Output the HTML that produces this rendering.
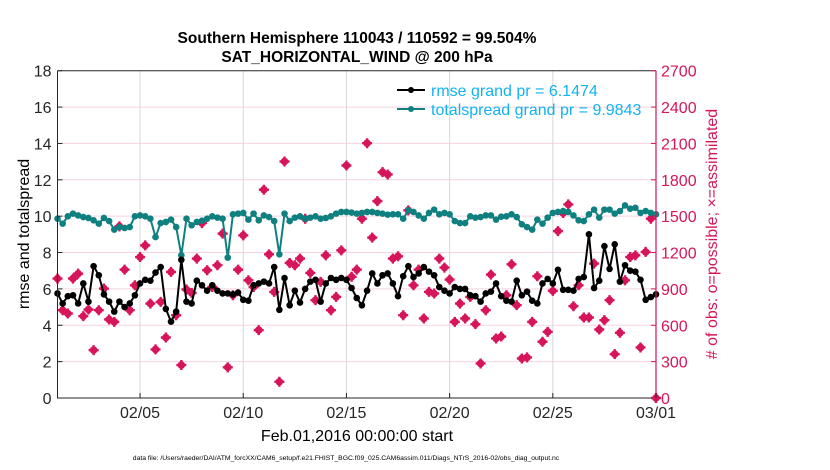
<!DOCTYPE html>
<html><head><meta charset="utf-8">
<style>
html,body{margin:0;padding:0;background:#fff;}
svg{display:block;font-family:"Liberation Sans",sans-serif;}
</style></head>
<body>
<svg id="chart" width="830" height="470" viewBox="0 0 830 470" xmlns="http://www.w3.org/2000/svg">
<rect width="830" height="470" fill="#fff"/>
<g id="grid"></g>
<g id="series"></g>
<g id="axes"></g>
<text x="357" y="43" font-size="15.5" font-weight="bold" text-anchor="middle">Southern Hemisphere 110043 / 110592 = 99.504%</text>
<text x="357" y="62" font-size="15.5" font-weight="bold" text-anchor="middle">SAT_HORIZONTAL_WIND @ 200 hPa</text>
<text transform="translate(29,234) rotate(-90)" font-size="16" text-anchor="middle">rmse and totalspread</text>
<text transform="translate(717,234) rotate(-90)" font-size="16" text-anchor="middle" fill="#d6155a"># of obs: o=possible; ×=assimilated</text>
<text x="357" y="441" font-size="16" text-anchor="middle">Feb.01,2016 00:00:00 start</text>
<text x="346" y="460" font-size="6.8" text-anchor="middle">data file: /Users/raeder/DAI/ATM_forcXX/CAM6_setup/f.e21.FHIST_BGC.f09_025.CAM6assim.011/Diags_NTrS_2016-02/obs_diag_output.nc</text>
<g>
  <g>
    <line x1="397" y1="90" x2="425" y2="90" stroke="#000" stroke-width="2"/>
    <circle cx="411" cy="90" r="3" fill="#000"/>
    <text x="431" y="96" font-size="16" fill="#12b3f0">rmse grand pr = 6.1474</text>
  </g>
  <g>
    <line x1="397" y1="109" x2="425" y2="109" stroke="#0f8080" stroke-width="2"/>
    <circle cx="411" cy="109" r="3" fill="#0f8080"/>
    <text x="431" y="115" font-size="16" fill="#12b3f0">totalspread grand pr = 9.9843</text>
  </g>
</g>
</svg>
<script>
const rmse=[5.75,5.2,5.6,5.65,5.2,6.3,5.3,7.25,6.75,5.7,5.3,4.75,5.3,5.0,5.2,5.65,6.3,6.5,6.45,6.9,7.2,4.9,4.2,4.75,7.6,5.3,5.2,6.45,6.2,5.9,
6.2,5.9,5.75,5.75,5.7,5.8,5.4,5.35,6.2,6.3,6.4,6.3,7.2,4.85,6.6,5.1,5.9,5.25,6.0,6.4,6.5,5.3,6.3,6.6,6.5,6.6,6.5,6.05,
5.5,5.1,5.9,6.85,6.3,6.75,6.85,6.3,5.6,6.7,7.25,6.65,6.85,7.2,6.95,6.75,6.1,5.9,5.75,6.1,6.0,6.0,5.65,5.6,5.3,5.75,5.85,6.3,5.6,
5.35,5.3,6.45,5.65,5.85,5.35,5.2,6.3,6.55,6.3,7.05,5.95,5.95,5.9,6.55,6.65,9.0,6.05,6.45,8.35,7.1,8.45,6.4,7.3,7.0,6.95,6.5,5.4,5.55,5.7];
const spread=[9.86,9.59,9.99,10.14,10.04,9.95,9.9,9.77,9.59,9.9,9.73,9.26,9.4,9.35,9.4,9.99,10.04,9.99,9.86,8.85,9.62,9.68,9.81,9.4,7.85,9.86,9.5,9.68,9.75,9.86,
9.99,9.92,9.86,7.72,10.1,10.14,10.18,9.81,10.14,9.77,10.04,9.95,9.73,7.9,10.14,9.73,9.92,9.99,9.86,9.92,9.99,9.86,9.9,9.99,10.14,10.23,10.23,10.2,
10.14,10.18,10.23,10.23,10.18,10.14,10.08,10.1,10.1,9.86,10.32,10.23,10.04,9.86,10.18,10.36,10.1,10.18,10.1,9.73,9.62,9.62,9.99,9.92,9.95,10.04,10.04,9.81,9.97,
9.99,10.1,9.95,9.55,9.4,9.26,9.81,9.59,9.92,10.18,10.23,10.28,10.23,10.04,9.77,9.73,10.1,10.36,9.92,10.36,10.36,10.14,10.28,10.59,10.41,10.46,10.18,10.28,10.18,10.1];
const nobs=[985,724,697,985,1026,675,730,395,724,903,648,628,1416,1059,724,930,1163,1259,779,401,793,499,1040,683,272,895,867,1150,1443,1054,
916,1095,1356,253,848,1059,1342,971,916,560,1718,1185,875,134,1951,1114,1095,1150,1479,1032,807,958,1177,724,834,1218,1918,1000,
1059,1479,2102,1323,1624,1863,1844,1150,1169,683,1548,930,1059,656,875,862,1150,1076,977,628,779,656,834,609,285,724,1018,491,507,
848,1103,766,326,335,628,1004,464,546,884,1377,1526,1597,757,930,664,664,1109,565,642,807,362,538,971,1163,1177,417,1205,1479,0];
const xTickLabels=["02/05","02/10","02/15","02/20","02/25","03/01"];
const xTickDays=[4,9,14,19,24,29];
const leftTicks=[0,2,4,6,8,10,12,14,16,18];
const rightTicks=[0,300,600,900,1200,1500,1800,2100,2400,2700];

const X0=57.5,X1=656,Y0=398,Y1=70.7,DAYS=29,STEPS_PER_DAY=4;
const xDay=d=>X0+(X1-X0)*d/DAYS;
const xIdx=i=>xDay(i/STEPS_PER_DAY);
const yL=v=>Y0-(Y0-Y1)*v/18;
const yR=v=>Y0-(Y0-Y1)*v/2700;
const NS="http://www.w3.org/2000/svg";
function mk(tag,attrs,parent){const e=document.createElementNS(NS,tag);for(const k in attrs)e.setAttribute(k,attrs[k]);parent.appendChild(e);return e;}
const grid=document.getElementById('grid'),series=document.getElementById('series'),axes=document.getElementById('axes');

rightTicks.forEach(v=>{if(v>0&&v<2700){const l=mk('line',{x1:X0,x2:X1,y1:yR(v),y2:yR(v),stroke:'#f6d3e0','stroke-width':1},grid);

}});
xTickDays.forEach(d=>{if(d<DAYS){const l=mk('line',{x1:xDay(d),x2:xDay(d),y1:Y1,y2:Y0,stroke:'#d8d8d8','stroke-width':1},grid);

}});

nobs.forEach((v,i)=>{const g=mk('g',{},series);


const cx=xIdx(i),cy=yR(v);
mk('circle',{cx:cx,cy:cy,r:3.8,fill:'#d6155a'},g);
mk('path',{d:`M${cx-5},${cy}H${cx+5}M${cx},${cy-5}V${cy+5}`,stroke:'#d6155a','stroke-width':2.4},g);});

function line(arr,col,name){const p=mk('polyline',{points:arr.map((v,i)=>xIdx(i)+','+yL(v)).join(' '),fill:'none',stroke:col,'stroke-width':2,'stroke-linejoin':'round'},series);


arr.forEach((v,i)=>{const c=mk('circle',{cx:xIdx(i),cy:yL(v),r:3.3,fill:col},series);

});}
line(spread,'#0f8080','totalspread');
line(rmse,'#000','rmse');

const fr=mk('path',{d:`M${X0},${Y1}V${Y0}H${X1}M${X0},${Y1}H${X1}`,fill:'none',stroke:'#262626','stroke-width':1},axes);


const ra=mk('line',{x1:X1,x2:X1,y1:Y1,y2:Y0,stroke:'#d6155a','stroke-width':1.2},axes);


leftTicks.forEach(v=>{mk('line',{x1:X0,x2:X0+5,y1:yL(v),y2:yL(v),stroke:'#262626'},axes);
const t=mk('text',{x:X0-6,y:yL(v)+6,'font-size':16,'text-anchor':'end',fill:'#262626'},axes);t.textContent=v;

});
rightTicks.forEach(v=>{mk('line',{x1:X1-5,x2:X1,y1:yR(v),y2:yR(v),stroke:'#d6155a'},axes);
const t=mk('text',{x:X1+5,y:yR(v)+6,'font-size':16,fill:'#d6155a'},axes);t.textContent=v;

});
xTickDays.forEach((d,k)=>{mk('line',{x1:xDay(d),x2:xDay(d),y1:Y0,y2:Y0-5,stroke:'#262626'},axes);
const t=mk('text',{x:xDay(d),y:Y0+20,'font-size':16,'text-anchor':'middle',fill:'#262626'},axes);t.textContent=xTickLabels[k];

});
</script>
</body></html>
